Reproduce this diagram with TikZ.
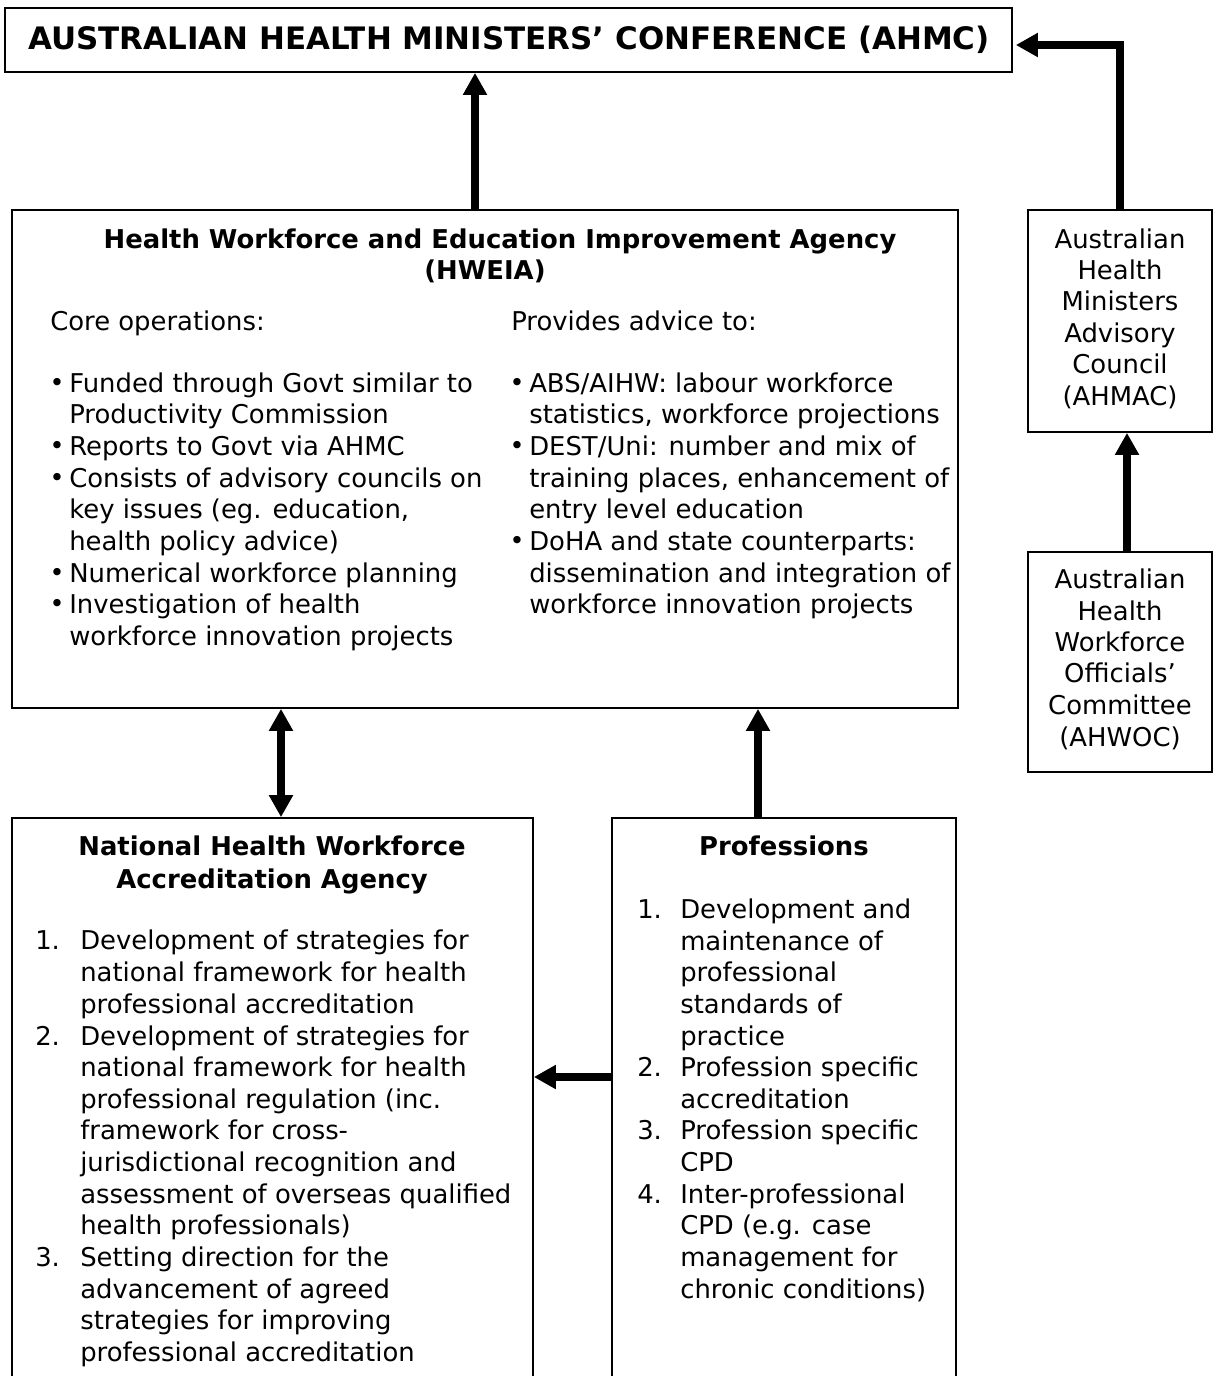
\documentclass[tikz,border=0pt]{standalone}
\usepackage{fontspec}
\setmainfont{DejaVu Sans}
\usetikzlibrary{arrows.meta}
\def\pxu{0.025cm}
\tikzstyle{box}=[draw,rectangle,line width=1.2pt,inner sep=0pt]
\tikzstyle{line}=[font=\fontsize{18.4}{22.4}\selectfont,inner sep=0pt,anchor=mid west,yshift=-6*\pxu]
\tikzstyle{dot}=[font=\fontsize{18}{22.4}\selectfont,inner sep=0pt,anchor=mid,yshift=-5*\pxu]
\tikzstyle{cline}=[font=\fontsize{18.4}{22.4}\selectfont,inner sep=0pt,anchor=mid,yshift=-6*\pxu]
\tikzstyle{head}=[font=\fontsize{18.4}{22.4}\selectfont\bfseries,inner sep=0pt,anchor=mid,yshift=-6*\pxu]
\tikzstyle{bigarrow}=[draw,line width=5pt,line join=miter,-{Triangle[length=0.55cm,width=0.57cm]}]

\begin{document}
\begin{tikzpicture}[x=\pxu,y=-\pxu]
  \clip (0,0) rectangle (1214,1376);

% Boxes
  \node[box,minimum width=1007*\pxu,minimum height=64*\pxu] (ahmc) at (508.5,40) {};
  \node[box,minimum width=946*\pxu,minimum height=498*\pxu] (hweia) at (485,459) {};
  \node[box,minimum width=184*\pxu,minimum height=222*\pxu] (ahmac) at (1120,321) {};
  \node[box,minimum width=184*\pxu,minimum height=220*\pxu] (ahwoc) at (1120,662) {};
  \node[box,minimum width=521*\pxu,minimum height=582*\pxu] (nhwaa) at (272.5,1109) {};
  \node[box,minimum width=344*\pxu,minimum height=582*\pxu] (prof) at (784,1109) {};

% Title
  \node[head,font=\fontsize{22}{26}\selectfont\bfseries] (title) at (509,40) {AUSTRALIAN HEALTH MINISTERS’ CONFERENCE (AHMC)};

% HWEIA
  \node[head] (hw1) at (500,239) {Health Workforce and Education Improvement Agency};
  \node[head] (hw2) at (485,270) {(HWEIA)};
  \node[line] (core) at (50,321) {Core operations:};
  \node[line] (adv) at (511,321) {Provides advice to:};
  \foreach \y/\t [count=\i] in {383/{Funded through Govt similar to}, 414/{Productivity Commission},
      446/{Reports to Govt via AHMC}, 478/{Consists of advisory councils on}, 509/{key issues (eg. education,},
      541/{health policy advice)}, 573/{Numerical workforce planning}, 604/{Investigation of health},
      636/{workforce innovation projects}}
    \node[line] (core\i) at (69,\y) {\t};
  \foreach \y [count=\i] in {383,446,478,573,604}
    \node[dot] (cb\i) at (57,\y) {•};
  \foreach \y/\t [count=\i] in {383/{ABS/AIHW: labour workforce}, 414/{statistics, workforce projections},
      446/{DEST/Uni: number and mix of}, 478/{training places, enhancement of}, 509/{entry level education},
      541/{DoHA and state counterparts:}, 573/{dissemination and integration of},
      604/{workforce innovation projects}}
    \node[line] (adv\i) at (529,\y) {\t};
  \foreach \y [count=\i] in {383,446,541}
    \node[dot] (ab\i) at (517,\y) {•};

% AHMAC / AHWOC
  \foreach \y/\t [count=\i] in {239/Australian, 270/Health, 301/Ministers, 333/Advisory, 364/Council, 396/(AHMAC)}
    \node[cline] (mac\i) at (1120,\y) {\t};
  \foreach \y/\t [count=\i] in {579/Australian, 611/Health, 642/Workforce, 673/Officials’, 705/Committee, 737/(AHWOC)}
    \node[cline] (woc\i) at (1120,\y) {\t};

% NHWAA
  \node[head] (na1) at (272,846) {National Health Workforce};
  \node[head] (na2) at (272,879) {Accreditation Agency};
  \foreach \y/\t [count=\i] in {940/{Development of strategies for}, 972/{national framework for health},
      1004/{professional accreditation}, 1036/{Development of strategies for}, 1067/{national framework for health},
      1099/{professional regulation (inc.}, 1130/{framework for cross-}, 1162/{jurisdictional recognition and},
      1194/{assessment of overseas qualified}, 1225/{health professionals)}, 1257/{Setting direction for the},
      1289/{advancement of agreed}, 1320/{strategies for improving}, 1352/{professional accreditation}}
    \node[line] (nat\i) at (80,\y) {\t};
  \foreach \y/\n in {940/1, 1036/2, 1257/3}
    \node[line] (nn\n) at (35,\y) {\n.};

% Professions
  \node[head] (pr) at (784,846) {Professions};
  \foreach \y/\t [count=\i] in {909/{Development and}, 941/{maintenance of}, 972/{professional},
      1004/{standards of}, 1036/{practice}, 1067/{Profession specific}, 1099/{accreditation},
      1130/{Profession specific}, 1162/{CPD}, 1194/{Inter-professional}, 1225/{CPD (e.g. case},
      1257/{management for}, 1289/{chronic conditions)}}
    \node[line] (pro\i) at (680,\y) {\t};
  \foreach \y/\n in {909/1, 1067/2, 1130/3, 1194/4}
    \node[line] (pn\n) at (637,\y) {\n.};

% Arrows
  \draw[bigarrow] ([xshift=-10*\pxu]hweia.north) -- ([xshift=-10*\pxu]hweia.north |- ahmc.south);
  \draw[bigarrow] (ahmac.north) |- ([xshift=3*\pxu,yshift=-5*\pxu]ahmc.east);
  \draw[bigarrow] ([xshift=7*\pxu]ahwoc.north) -- ([xshift=7*\pxu]ahmac.south);
  \draw[bigarrow,{Triangle[length=0.55cm,width=0.57cm]}-{Triangle[length=0.55cm,width=0.57cm]}]
    ([xshift=8.5*\pxu]nhwaa.north) -- ([xshift=8.5*\pxu]nhwaa.north |- hweia.south);
  \draw[bigarrow] ([xshift=-26*\pxu]prof.north) -- ([xshift=-26*\pxu]prof.north |- hweia.south);
  \draw[bigarrow] ([yshift=32*\pxu]prof.west) -- ([yshift=32*\pxu]prof.west -| nhwaa.east);

\end{tikzpicture}
\end{document}
